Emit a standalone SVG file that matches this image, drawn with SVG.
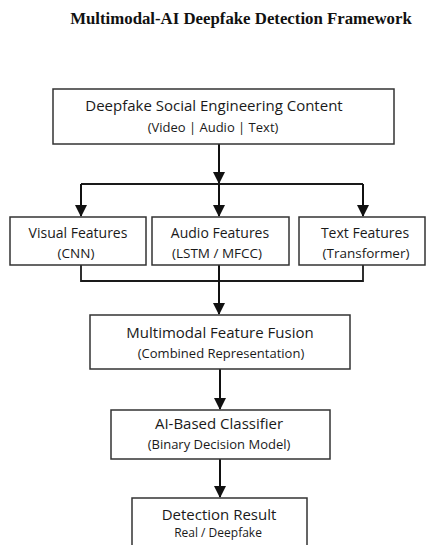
<svg xmlns="http://www.w3.org/2000/svg" width="429" height="545" viewBox="0 0 429 545">
  <style>
    .box { fill: #ffffff; stroke: #333333; stroke-width: 1.5; }
    .t1 { font-family: "Open Sans", "DejaVu Sans", sans-serif; font-size: 15px; fill: #1a1a1a; text-anchor: middle; }
    .t2 { font-family: "Open Sans", "DejaVu Sans", sans-serif; font-size: 13px; fill: #1a1a1a; text-anchor: middle; }
    .f1 { font-size: 14px; }
    .f2 { font-size: 13.5px; }
    .r2 { font-size: 12px; }
    .title { font-family: "Liberation Serif", "Times New Roman", serif; font-size: 16.8px; font-weight: bold; fill: #111111; text-anchor: middle; }
    .wire { fill: none; stroke: #1a1a1a; stroke-width: 1.8; }
    .arrow { fill: none; stroke: #111111; stroke-width: 2; marker-end: url(#head); }
  </style>
  <defs>
    <marker id="head" markerUnits="userSpaceOnUse" markerWidth="12" markerHeight="12" viewBox="0 0 12 12" refX="11" refY="6" orient="auto">
      <path d="M0,0 L12,6 L0,12 Z" fill="#111111"/>
    </marker>
  </defs>
  <rect width="429" height="545" fill="#ffffff"/>

  <text class="title" x="241" y="24">Multimodal-AI Deepfake Detection Framework</text>

  <g id="connectors">
    <!-- source to the three feature extractors -->
    <line class="arrow" x1="219" y1="144" x2="219" y2="183"/>
    <line class="wire" x1="81" y1="184" x2="363" y2="184"/>
    <line class="arrow" x1="81" y1="184" x2="81" y2="216"/>
    <line class="arrow" x1="219" y1="184" x2="219" y2="216"/>
    <line class="arrow" x1="363" y1="184" x2="363" y2="216"/>
    <!-- extractors merged into fusion -->
    <polyline class="wire" points="81,265 81,281 363,281 363,265"/>
    <line class="arrow" x1="219" y1="265" x2="219" y2="314"/>
    <!-- fusion to classifier to result -->
    <line class="arrow" x1="220" y1="369" x2="220" y2="409"/>
    <line class="arrow" x1="220" y1="459" x2="220" y2="497"/>
  </g>

  <g id="source">
    <rect class="box" x="53" y="89" width="341" height="55"/>
    <text class="t1" x="214" y="111">Deepfake Social Engineering Content</text>
    <text class="t2" x="213" y="132">(Video | Audio | Text)</text>
  </g>

  <g id="visual">
    <rect class="box" x="10" y="217" width="136" height="48"/>
    <text class="t1 f1" x="78" y="238">Visual Features</text>
    <text class="t2 f2" x="76" y="258">(CNN)</text>
  </g>

  <g id="audio">
    <rect class="box" x="152" y="217" width="137" height="48"/>
    <text class="t1 f1" x="220" y="238">Audio Features</text>
    <text class="t2 f2" x="217" y="258">(LSTM / MFCC)</text>
  </g>

  <g id="text">
    <rect class="box" x="299" y="217" width="126" height="48"/>
    <text class="t1 f1" x="365" y="238">Text Features</text>
    <text class="t2 f2" x="366" y="258">(Transformer)</text>
  </g>

  <g id="fusion">
    <rect class="box" x="90" y="315" width="260" height="54"/>
    <text class="t1" x="220" y="338">Multimodal Feature Fusion</text>
    <text class="t2" x="221" y="358">(Combined Representation)</text>
  </g>

  <g id="classifier">
    <rect class="box" x="111" y="410" width="219" height="49"/>
    <text class="t1" x="219" y="429">AI-Based Classifier</text>
    <text class="t2" x="219" y="449">(Binary Decision Model)</text>
  </g>

  <g id="result">
    <rect class="box" x="132" y="498" width="175" height="60"/>
    <text class="t1" x="219" y="520">Detection Result</text>
    <text class="t2 r2" x="218" y="537">Real / Deepfake</text>
  </g>
</svg>
